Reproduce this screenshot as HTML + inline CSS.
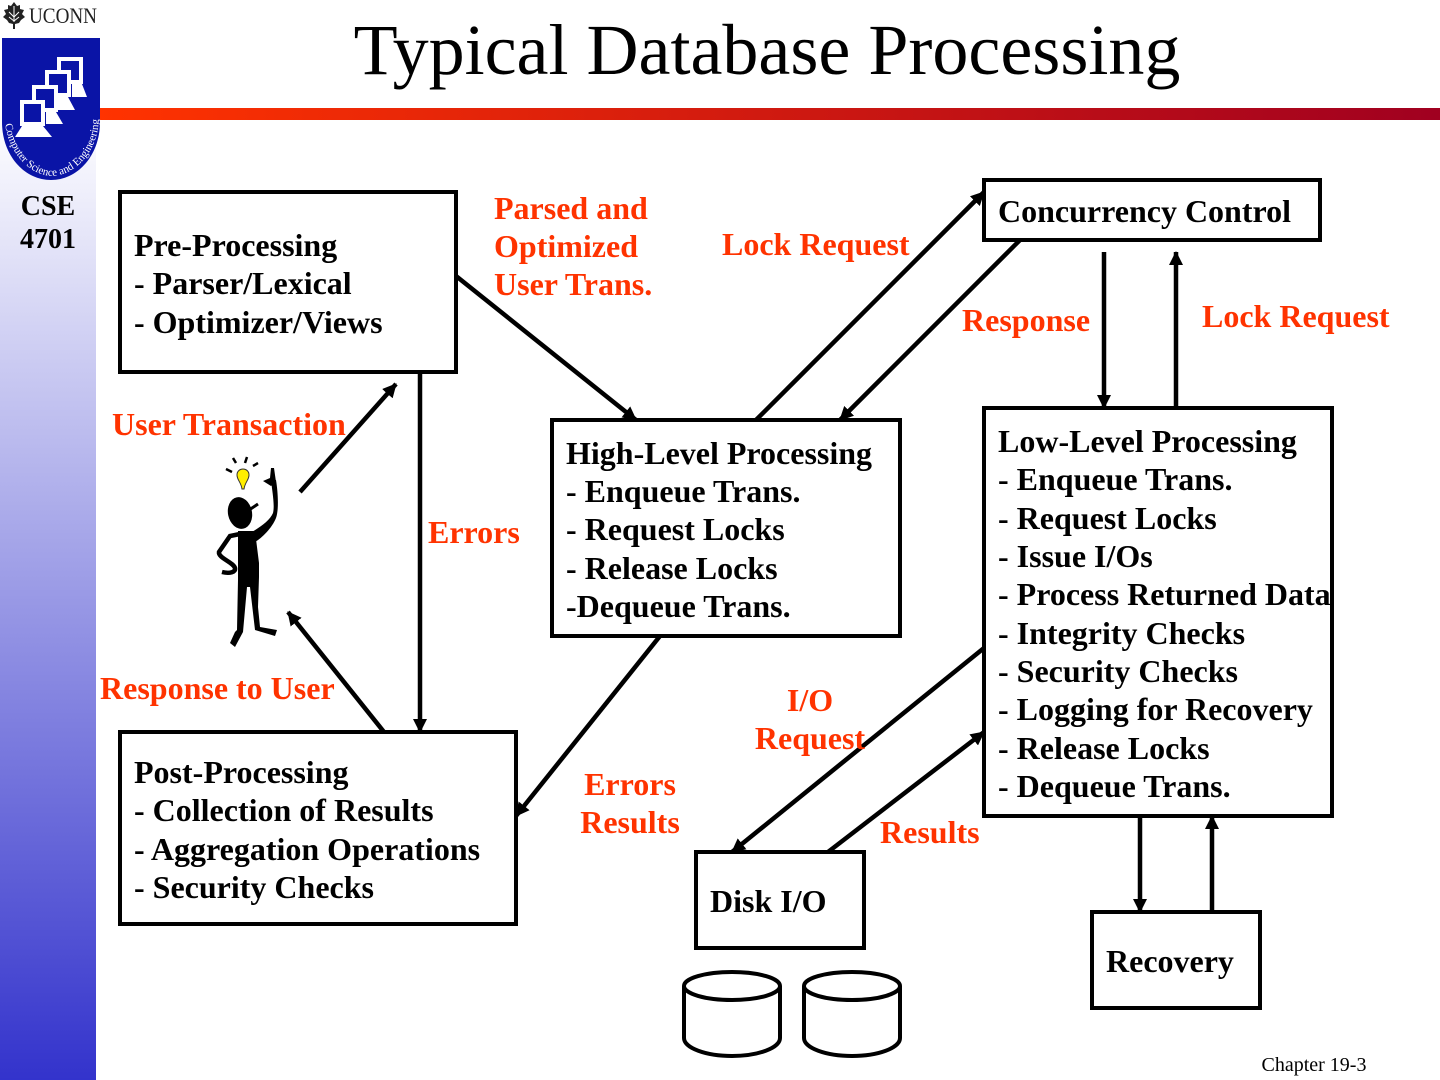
<!DOCTYPE html>
<html>
<head>
<meta charset="utf-8">
<style>
html,body{margin:0;padding:0;background:#fff}
svg{display:block}
text{font-family:"Liberation Serif",serif;font-weight:bold;font-size:32px;fill:#000}
.r{fill:#ff3300}
.b{fill:#fff;stroke:#000;stroke-width:4}
.l{stroke:#000;stroke-width:4.5;fill:none}
</style>
</head>
<body>
<svg width="1440" height="1080" viewBox="0 0 1440 1080" xmlns="http://www.w3.org/2000/svg">
<defs>
<linearGradient id="side" x1="0" y1="0" x2="0" y2="1">
<stop offset="0" stop-color="#ffffff"/>
<stop offset="0.107" stop-color="#ffffff"/>
<stop offset="1" stop-color="#3333cc"/>
</linearGradient>
<linearGradient id="bar" x1="0" y1="0" x2="1" y2="0">
<stop offset="0" stop-color="#ff3300"/>
<stop offset="1" stop-color="#a00020"/>
</linearGradient>
<marker id="a" markerUnits="userSpaceOnUse" markerWidth="16" markerHeight="14" refX="13" refY="7" orient="auto">
<path d="M0 0L14 7L0 14Z" fill="#000"/>
</marker>
</defs>
<rect x="0" y="0" width="96" height="1080" fill="url(#side)"/>
<rect x="100" y="108" width="1340" height="12" fill="url(#bar)"/>

<!-- logo -->
<g>
<path d="M14 2L17 6L20 5L20 9L24 10L22 14L25 17L21 20L19 23L15 24L15 29L13 29L13 24L9 23L7 20L3 17L6 14L4 10L8 9L8 5L11 6Z" fill="#222"/>
<path d="M14 6V22M9 12L14 17M19 12L14 17M9 17L14 21M19 17L14 21" stroke="#fff" stroke-width="1"/>
<text x="29" y="23" style="font-weight:normal;font-size:22px;fill:#222" textLength="68" lengthAdjust="spacingAndGlyphs">UCONN</text>
<path d="M2 38H100V122C100 155 78 180 51 180C24 180 2 155 2 122Z" fill="#0a14a6"/>
<rect x="59" y="59" width="22" height="23" fill="#0a14a6" stroke="#fff" stroke-width="4"/>
<path d="M72 84H82L87 97H72Z" fill="#fff"/>
<rect x="47" y="72" width="22" height="23" fill="#0a14a6" stroke="#fff" stroke-width="4"/>
<path d="M58 97H68L75 110H58Z" fill="#fff"/>
<rect x="34" y="87" width="22" height="23" fill="#0a14a6" stroke="#fff" stroke-width="4"/>
<path d="M46 112H56L63 124H46Z" fill="#fff"/>
<rect x="22" y="102" width="21" height="22" fill="#0a14a6" stroke="#fff" stroke-width="4"/>
<path d="M22 126H43L52 137H15Z" fill="#fff"/>
<path id="logoarc" d="M5 124C10 155 30 175 52 176C74 175 94 155 98 128L100 100" fill="none"/>
<text style="font-size:11px;font-weight:normal;fill:#fff"><textPath href="#logoarc">Computer Science and Engineering</textPath></text>
</g>

<text x="48" y="215" text-anchor="middle" style="font-size:28px">CSE</text>
<text x="48" y="248" text-anchor="middle" style="font-size:28px">4701</text>

<text x="767" y="74" text-anchor="middle" style="font-weight:normal;font-size:72px">Typical Database Processing</text>
<text x="1314" y="1071" text-anchor="middle" style="font-weight:normal;font-size:20px">Chapter 19-3</text>

<!-- boxes -->
<rect class="b" x="120" y="192" width="336" height="180"/>
<rect class="b" x="984" y="180" width="336" height="60"/>
<rect class="b" x="552" y="420" width="348" height="216"/>
<rect class="b" x="984" y="408" width="348" height="408"/>
<rect class="b" x="120" y="732" width="396" height="192"/>
<rect class="b" x="696" y="852" width="168" height="96"/>
<rect class="b" x="1092" y="912" width="168" height="96"/>

<!-- arrows -->
<line class="l" x1="456" y1="276" x2="636" y2="420" marker-end="url(#a)"/>
<line class="l" x1="756" y1="420" x2="984" y2="192" marker-end="url(#a)"/>
<line class="l" x1="1020" y1="240" x2="840" y2="420" marker-end="url(#a)"/>
<line class="l" x1="1104" y1="252" x2="1104" y2="408" marker-end="url(#a)"/>
<line class="l" x1="1176" y1="408" x2="1176" y2="252" marker-end="url(#a)"/>
<line class="l" x1="420" y1="372" x2="420" y2="732" marker-end="url(#a)"/>
<line class="l" x1="300" y1="492" x2="396" y2="384" marker-end="url(#a)"/>
<line class="l" x1="384" y1="732" x2="288" y2="612" marker-end="url(#a)"/>
<line class="l" x1="660" y1="636" x2="516" y2="816" marker-end="url(#a)"/>
<line class="l" x1="984" y1="648" x2="732" y2="852" marker-end="url(#a)"/>
<line class="l" x1="828" y1="852" x2="984" y2="732" marker-end="url(#a)"/>
<line class="l" x1="1140" y1="816" x2="1140" y2="912" marker-end="url(#a)"/>
<line class="l" x1="1212" y1="912" x2="1212" y2="816" marker-end="url(#a)"/>

<!-- box text -->
<text x="134" y="256">Pre-Processing</text>
<text x="134" y="294">- Parser/Lexical</text>
<text x="134" y="333">- Optimizer/Views</text>

<text x="998" y="222">Concurrency Control</text>

<text x="566" y="464">High-Level Processing</text>
<text x="566" y="502">- Enqueue Trans.</text>
<text x="566" y="540">- Request Locks</text>
<text x="566" y="579">- Release Locks</text>
<text x="566" y="617">-Dequeue Trans.</text>

<text x="998" y="452">Low-Level Processing</text>
<text x="998" y="490">- Enqueue Trans.</text>
<text x="998" y="529">- Request Locks</text>
<text x="998" y="567">- Issue I/Os</text>
<text x="998" y="605">- Process Returned Data</text>
<text x="998" y="644">- Integrity Checks</text>
<text x="998" y="682">- Security Checks</text>
<text x="998" y="720">- Logging for Recovery</text>
<text x="998" y="759">- Release Locks</text>
<text x="998" y="797">- Dequeue Trans.</text>

<text x="134" y="783">Post-Processing</text>
<text x="134" y="821">- Collection of Results</text>
<text x="134" y="860">- Aggregation Operations</text>
<text x="134" y="898">- Security Checks</text>

<text x="710" y="912">Disk I/O</text>
<text x="1106" y="972">Recovery</text>

<!-- red labels -->
<text class="r" x="494" y="219">Parsed and</text>
<text class="r" x="494" y="257">Optimized</text>
<text class="r" x="494" y="295">User Trans.</text>
<text class="r" x="722" y="255">Lock Request</text>
<text class="r" x="962" y="331">Response</text>
<text class="r" x="1202" y="327">Lock Request</text>
<text class="r" x="112" y="435">User Transaction</text>
<text class="r" x="428" y="543">Errors</text>
<text class="r" x="100" y="699">Response to User</text>
<text class="r" x="810" y="711" text-anchor="middle">I/O</text>
<text class="r" x="810" y="749" text-anchor="middle">Request</text>
<text class="r" x="630" y="795" text-anchor="middle">Errors</text>
<text class="r" x="630" y="833" text-anchor="middle">Results</text>
<text class="r" x="880" y="843">Results</text>

<!-- figure -->
<g>
<ellipse cx="240" cy="513" rx="12" ry="16" transform="rotate(-12 240 513)" fill="#000"/>
<path d="M249 510L258 504" stroke="#000" stroke-width="3" fill="none"/>
<path d="M239 531H255L259 563L259 577L258 607L260 627L277 630L275 636L255 630L250 587L247 587L243 632L235 647L230 643L235 632L237 630L238 580L238 531Z" fill="#000"/>
<path d="M240 534L230 536L219 552C218 558 233 562 235 568C236 572 230 574 222 572" fill="none" stroke="#000" stroke-width="4.5"/>
<path d="M252 532C262 526 270 520 273 513C275 505 272 490 271 480L276 480C278 492 279 510 276 518C272 528 262 538 255 542Z" fill="#000"/>
<path d="M271 486L263 481L270 478L271 468L274 468L276 482Z" fill="#000"/>
<path d="M237 475C237 467 249 467 249 475C249 480 245 482 244 489L242 489C241 482 237 480 237 475Z" fill="#ffee00" stroke="#333" stroke-width="1"/>
<path d="M226 469L232 472M233 458L236 463M247 457L245 463M258 463L253 466" stroke="#000" stroke-width="2.5"/>
</g>

<!-- cylinders -->
<g fill="#fff" stroke="#000" stroke-width="4">
<path d="M684 986V1038C684 1048 706 1056 732 1056C758 1056 780 1048 780 1038V986"/>
<ellipse cx="732" cy="986" rx="48" ry="14"/>
<path d="M804 986V1038C804 1048 826 1056 852 1056C878 1056 900 1048 900 1038V986"/>
<ellipse cx="852" cy="986" rx="48" ry="14"/>
</g>
</svg>
</body>
</html>
